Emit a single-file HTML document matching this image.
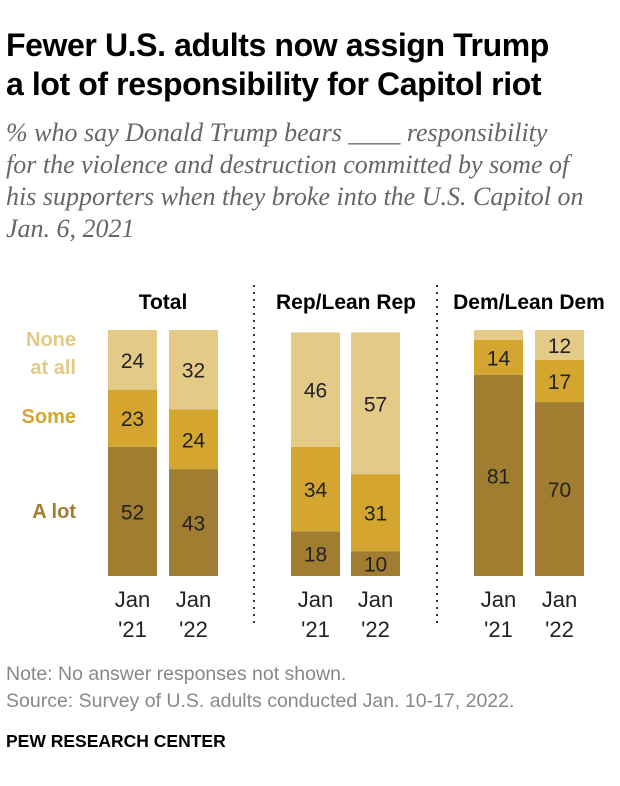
<!DOCTYPE html>
<html><head><meta charset="utf-8"><style>
body{margin:0;background:#fff;width:620px;height:786px;overflow:hidden;font-family:"Liberation Sans",sans-serif;}
.title{position:absolute;left:6px;top:26px;font-size:32px;font-weight:bold;line-height:39px;color:#000;letter-spacing:-0.4px;white-space:nowrap}
.sub{position:absolute;left:6px;top:117px;font-family:"Liberation Serif",serif;font-style:italic;font-size:26px;line-height:32px;color:#666;white-space:nowrap}
.note{position:absolute;left:6px;font-size:19.5px;color:#888}
</style></head><body>
<div class="title">Fewer U.S. adults now assign Trump<br>a lot of responsibility for Capitol riot</div>
<div class="sub">% who say Donald Trump bears ____ responsibility<br>for the violence and destruction committed by some of<br>his supporters when they broke into the U.S. Capitol on<br>Jan. 6, 2021</div>
<svg id="c" width="620" height="786" style="position:absolute;left:0;top:0"></svg>
<div class="note" style="top:663px">Note: No answer responses not shown.</div>
<div class="note" style="top:690px">Source: Survey of U.S. adults conducted Jan. 10-17, 2022.</div>
<div style="position:absolute;left:6px;top:731px;font-size:17.5px;font-weight:bold;color:#000">PEW RESEARCH CENTER</div>
<script>
const groups=["Total","Rep/Lean Rep","Dem/Lean Dem"];
const periods=["Jan\n'21","Jan\n'22"];
const aLot=[52,43,18,10,81,70];
const some=[23,24,34,31,14,17];
const none=[24,32,46,57,4,12];
const showNone=[true,true,true,true,false,true];
const colors=["#a07d30","#d4a62f","#e3ca86"];
const svg=document.getElementById('c');const NS="http://www.w3.org/2000/svg";
const base=576, k=2.485, bw=49;
const barX=[108,169,291,351,474,535];
const groupCx=[163,346,529];
function y(v){return base-v*k;}
function el(t,a){const e=document.createElementNS(NS,t);for(const n in a)e.setAttribute(n,a[n]);svg.appendChild(e);return e;}
groups.forEach((g,i)=>{const t=el('text',{x:groupCx[i],y:309,'text-anchor':'middle','font-size':21,'font-weight':'bold',fill:'#000'});t.textContent=g;

});
[254,437].forEach(x=>{const l=el('line',{x1:x,x2:x,y1:285,y2:628,stroke:'#333','stroke-width':2,'stroke-dasharray':'2,5'});

});
for(let i=0;i<6;i++){
  const segs=[aLot[i],some[i],none[i]];let acc=0;
  segs.forEach((v,s)=>{const r=el('rect',{x:barX[i],y:y(acc+v),width:bw,height:v*k,fill:colors[s]});
    
    
    if(s<2||showNone[i]){const t=el('text',{x:barX[i]+bw/2,y:y(acc+v/2)+8,'text-anchor':'middle','font-size':21,fill:'#222'});t.textContent=v;
      
      }
    acc+=v;});
  periods[i%2].split("\n").forEach((ln,j)=>{const t=el('text',{x:barX[i]+bw/2,y:607+j*30,'text-anchor':'middle','font-size':22,fill:'#222'});t.textContent=ln;
    
    });
}
[["None",346,2],["at all",374,2],["Some",423,1],["A lot",518,0]].forEach(a=>{const t=el('text',{x:76,y:a[1],'text-anchor':'end','font-size':20,'font-weight':'bold',fill:colors[a[2]]});t.textContent=a[0];

});
</script>
</body></html>
